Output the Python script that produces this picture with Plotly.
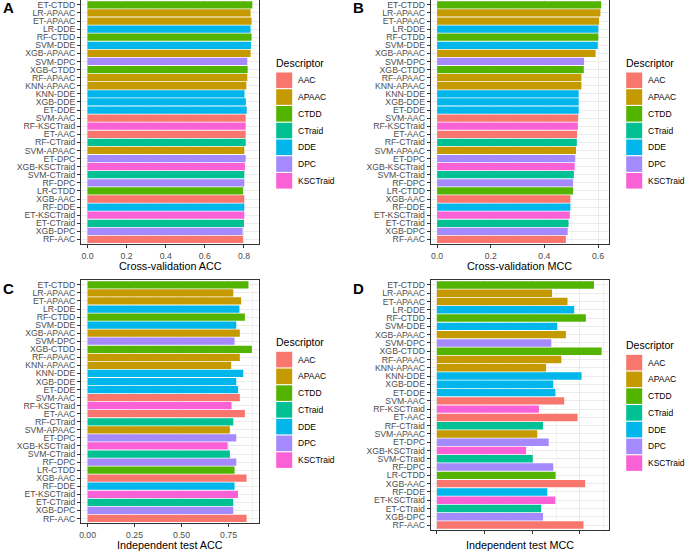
import plotly.graph_objects as go

W, H = 685, 551

names = ["ET-CTDD", "LR-APAAC", "ET-APAAC", "LR-DDE", "RF-CTDD", "SVM-DDE", "XGB-APAAC",
         "SVM-DPC", "XGB-CTDD", "RF-APAAC", "KNN-APAAC", "KNN-DDE", "XGB-DDE", "ET-DDE",
         "SVM-AAC", "RF-KSCTraid", "ET-AAC", "RF-CTraid", "SVM-APAAC", "ET-DPC",
         "XGB-KSCTraid", "SVM-CTraid", "RF-DPC", "LR-CTDD", "XGB-AAC", "RF-DDE",
         "ET-KSCTraid", "ET-CTraid", "XGB-DPC", "RF-AAC"]

cv_acc = [0.843, 0.834, 0.839, 0.834, 0.839, 0.836, 0.834, 0.817, 0.819, 0.817, 0.812,
          0.803, 0.810, 0.814, 0.809, 0.809, 0.809, 0.809, 0.802, 0.809, 0.805, 0.802,
          0.802, 0.795, 0.802, 0.802, 0.802, 0.800, 0.793, 0.795]

cv_mcc = [0.612, 0.609, 0.604, 0.601, 0.601, 0.599, 0.591, 0.548, 0.547, 0.538, 0.538,
          0.528, 0.528, 0.528, 0.526, 0.525, 0.522, 0.521, 0.518, 0.515, 0.513, 0.510,
          0.507, 0.507, 0.497, 0.497, 0.495, 0.490, 0.487, 0.480]

test_acc = [0.856, 0.775, 0.817, 0.808, 0.837, 0.791, 0.810, 0.782, 0.874, 0.810, 0.764,
            0.828, 0.791, 0.801, 0.810, 0.766, 0.837, 0.775, 0.757, 0.791, 0.745, 0.757,
            0.791, 0.782, 0.846, 0.782, 0.800, 0.775, 0.775, 0.846]

test_mcc = [0.659, 0.483, 0.548, 0.576, 0.625, 0.505, 0.541, 0.480, 0.691, 0.522, 0.458,
            0.607, 0.488, 0.497, 0.534, 0.428, 0.590, 0.445, 0.421, 0.469, 0.374, 0.402,
            0.488, 0.498, 0.622, 0.463, 0.497, 0.437, 0.445, 0.615]

descriptors = ["AAC", "APAAC", "CTDD", "CTraid", "DDE", "DPC", "KSCTraid"]
colors = ["#F8766D", "#C49A00", "#53B400", "#00C094", "#00B6EB", "#A58AFF", "#FB61D7"]

panels = [
    # values, x title, letter, (left, right, top, bottom) px, x range, dtick, show tick labels,
    # title y px, legend title y px, letter glyph top px
    (cv_acc, "Cross-validation ACC", "A", (81, 259, 0, 244.3), [-0.033, 0.877], 0.2, True, 265.5, 62.7, 2),
    (cv_mcc, "Cross-validation MCC", "B", (430.7, 609, 0, 244.3), [-0.024, 0.641], 0.2, True, 265.5, 62.7, 2),
    (test_acc, "Independent test ACC", "C", (81, 259, 280, 523.3), [-0.035, 0.912], 0.25, True, 544.5, 342, 283),
    (test_mcc, "Independent test MCC", "D", (430.7, 609, 280, 530), [-0.026, 0.722], 0.2, False, 544.5, 345, 283),
]

FONT = "Liberation Sans, Arial, sans-serif"
fig = go.Figure()
layout = dict(
    width=W, height=H, margin=dict(l=0, r=0, t=0, b=0),
    paper_bgcolor="white", plot_bgcolor="white",
    barmode="relative", bargap=0.1, showlegend=False,
    font=dict(family=FONT, color="black"),
    annotations=[], shapes=[],
)

desc_of = [n.split("-", 1)[1] for n in names]


def px(xp):
    return xp / W


def py(yp):
    return 1 - yp / H


for i, (vals, xtitle, letter, (l, r, t, b), xr, dt, showlab, ty, ly, lt) in enumerate(panels, start=1):
    sfx = "" if i == 1 else str(i)
    for d, c in zip(descriptors, colors):
        ys = [n for n, dd in zip(names, desc_of) if dd == d]
        xs = [v for v, dd in zip(vals, desc_of) if dd == d]
        fig.add_trace(go.Bar(
            x=xs, y=ys, orientation="h", name=d, marker=dict(color=c, line=dict(width=0)),
            xaxis=f"x{sfx}", yaxis=f"y{sfx}", showlegend=False,
            hovertemplate="%{y}: %{x}<extra>" + d + "</extra>",
        ))
    layout[f"xaxis{sfx}"] = dict(
        domain=[px(l), px(r)], anchor=f"y{sfx}", range=xr, dtick=dt, tick0=0,
        showgrid=True, gridcolor="#EBEBEB", gridwidth=1,
        minor=dict(dtick=dt / 2, tick0=0, showgrid=True, gridcolor="#F3F3F3", gridwidth=0.6),
        zeroline=False, showline=True, mirror=True, linecolor="#333333", linewidth=1,
        ticks="outside", ticklen=3, tickcolor="#333333", tickwidth=1,
        showticklabels=showlab, tickformat=".2f" if dt == 0.25 else ".1f",
        tickfont=dict(size=8.7, color="#4D4D4D", family=FONT),
        automargin=False, fixedrange=True,
    )
    layout[f"yaxis{sfx}"] = dict(
        domain=[py(b), py(t)], anchor=f"x{sfx}", type="category",
        categoryorder="array", categoryarray=list(reversed(names)),
        tickmode="array", tickvals=names, ticktext=names,
        range=[-0.6, len(names) - 0.4],
        showgrid=True, gridcolor="#EBEBEB", gridwidth=1,
        zeroline=False, showline=True, mirror=True, linecolor="#333333", linewidth=1,
        ticks="outside", ticklen=3, tickcolor="#333333", tickwidth=1,
        tickfont=dict(size=8.7, color="#4D4D4D", family=FONT),
        automargin=False, fixedrange=True,
    )
    # panel tag
    layout["annotations"].append(dict(
        text=f"<b>{letter}</b>", x=px(l - 80), y=py(lt - 5), xref="paper", yref="paper",
        xanchor="left", yanchor="top", showarrow=False,
        font=dict(size=15, color="black", family=FONT),
    ))
    # x axis title
    layout["annotations"].append(dict(
        text=xtitle, x=px((l + r) / 2), y=py(ty), xref="paper", yref="paper",
        xanchor="center", yanchor="middle", showarrow=False,
        font=dict(size=10.8, color="black", family=FONT),
    ))
    # legend (ggplot style keys)
    kx = r + 17.2
    layout["annotations"].append(dict(
        text="Descriptor", x=px(kx - 2), y=py(ly), xref="paper", yref="paper",
        xanchor="left", yanchor="middle", showarrow=False,
        font=dict(size=10.5, color="black", family=FONT),
    ))
    for k, (d, c) in enumerate(zip(descriptors, colors)):
        cy = ly + 17.6 + 16.75 * k
        layout["shapes"].append(dict(
            type="rect", xref="paper", yref="paper",
            x0=px(kx), x1=px(kx + 16), y0=py(cy + 7.8), y1=py(cy - 7.8),
            fillcolor=c, line=dict(width=0), layer="above",
        ))
        layout["annotations"].append(dict(
            text=d, x=px(kx + 20), y=py(cy), xref="paper", yref="paper",
            xanchor="left", yanchor="middle", showarrow=False,
            font=dict(size=8.5, color="black", family=FONT),
        ))

fig.update_layout(**layout)
fig.write_html(
    "out.html",
    config={"displayModeBar": False},
    post_script="document.body.style.margin='0px';document.body.style.padding='0px';",
)
